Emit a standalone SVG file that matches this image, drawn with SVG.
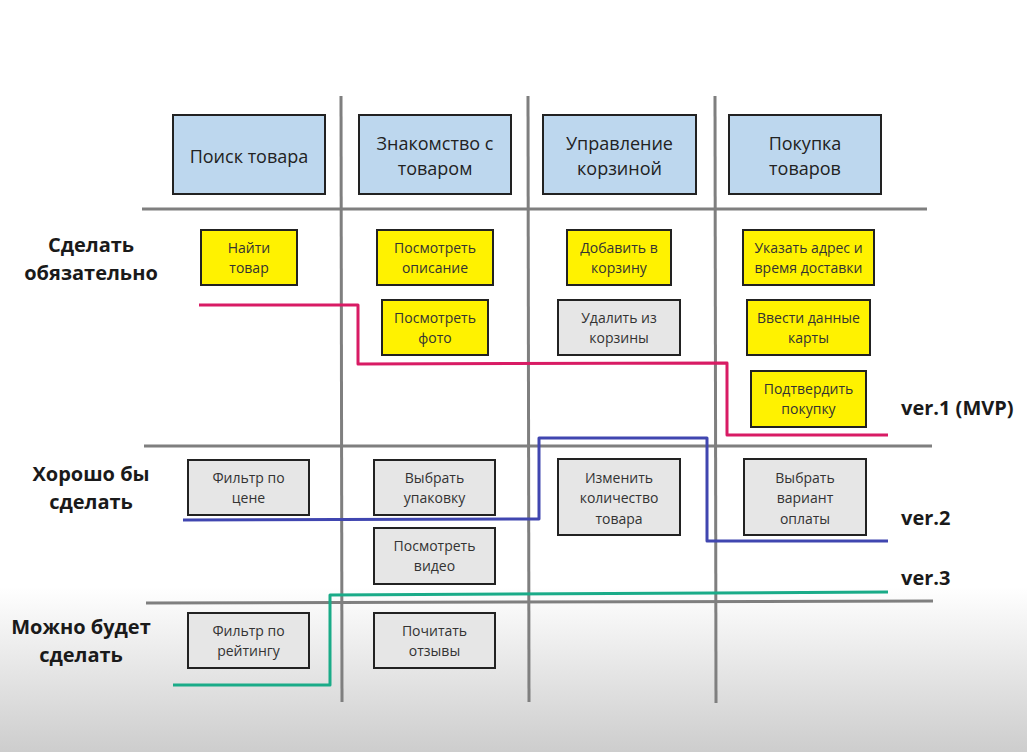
<svg xmlns="http://www.w3.org/2000/svg" width="1027" height="752" viewBox="0 0 1027 752">
  <defs>
    <linearGradient id="bg" x1="0" y1="0" x2="0" y2="1">
      <stop offset="0" stop-color="#ffffff"/>
      <stop offset="0.78" stop-color="#ffffff"/>
      <stop offset="1" stop-color="#cdcdcd"/>
    </linearGradient>
  </defs>
  <style>
    .grid { stroke: #7f7f7f; stroke-width: 3; fill: none; }
    .head rect { fill: #bdd7ee; stroke: #222; stroke-width: 2; }
    .yel rect { fill: #fff200; stroke: #222; stroke-width: 2; }
    .gry rect { fill: #e6e6e6; stroke: #222; stroke-width: 2; }
    text { font-family: "Open Sans", "Noto Sans", "DejaVu Sans", sans-serif; text-anchor: middle; }
    .head text { font-size: 18px; fill: #222; }
    .yel text, .gry text { font-size: 14px; fill: #333; }
    .lbl { font-size: 20px; font-weight: bold; fill: #1a1a1a; }
    .ver { font-size: 20px; font-weight: bold; fill: #1a1a1a; text-anchor: start; }
    .ln { fill: none; stroke-width: 3; stroke-linejoin: round; }
  </style>
  <rect x="0" y="0" width="1027" height="752" fill="url(#bg)"/>

  <g id="grid">
    <line class="grid" x1="341" y1="96" x2="342" y2="702"/>
    <line class="grid" x1="528" y1="96" x2="529" y2="702"/>
    <line class="grid" x1="715" y1="96" x2="716" y2="703"/>
    <line class="grid" x1="142" y1="209" x2="927" y2="209"/>
    <line class="grid" x1="144" y1="446" x2="932" y2="446"/>
    <line class="grid" x1="146" y1="603" x2="933" y2="601"/>
  </g>

  <g id="labels">
    <text class="lbl" x="91" y="252">Сделать</text>
    <text class="lbl" x="91" y="280">обязательно</text>
    <text class="lbl" x="91" y="481">Хорошо бы</text>
    <text class="lbl" x="91" y="509">сделать</text>
    <text class="lbl" x="81" y="634">Можно будет</text>
    <text class="lbl" x="81" y="662">сделать</text>
    <text class="ver" x="901" y="415">ver.1 (MVP)</text>
    <text class="ver" x="901" y="525">ver.2</text>
    <text class="ver" x="901" y="585">ver.3</text>
  </g>

  <g id="h1" class="head"><rect x="173" y="115" width="152" height="79"/><text x="249" y="163">Поиск товара</text></g>
  <g id="h2" class="head"><rect x="359" y="115" width="152" height="79"/><text x="435" y="150">Знакомство с</text><text x="435" y="175">товаром</text></g>
  <g id="h3" class="head"><rect x="543" y="115" width="153" height="79"/><text x="619.5" y="150">Управление</text><text x="619.5" y="175">корзиной</text></g>
  <g id="h4" class="head"><rect x="729" y="115" width="152" height="79"/><text x="805" y="150">Покупка</text><text x="805" y="175">товаров</text></g>

  <g id="n1" class="yel"><rect x="201" y="230" width="96" height="55"/><text x="249" y="253">Найти</text><text x="249" y="273">товар</text></g>
  <g id="n2" class="yel"><rect x="377" y="230" width="116" height="55"/><text x="435" y="253">Посмотреть</text><text x="435" y="273">описание</text></g>
  <g id="n3" class="yel"><rect x="567" y="230" width="104" height="55"/><text x="619" y="253">Добавить в</text><text x="619" y="273">корзину</text></g>
  <g id="n4" class="yel"><rect x="743" y="230" width="131" height="55"/><text x="808.5" y="253">Указать адрес и</text><text x="808.5" y="273">время доставки</text></g>
  <g id="n5" class="yel"><rect x="382" y="300" width="106" height="55"/><text x="435" y="323">Посмотреть</text><text x="435" y="343">фото</text></g>
  <g id="n6" class="gry"><rect x="558" y="300" width="122" height="55"/><text x="619" y="323">Удалить из</text><text x="619" y="343">корзины</text></g>
  <g id="n7" class="yel"><rect x="747" y="300" width="123" height="55"/><text x="808.5" y="323">Ввести данные</text><text x="808.5" y="343">карты</text></g>
  <g id="n8" class="yel"><rect x="751" y="371" width="115" height="56"/><text x="808.5" y="394">Подтвердить</text><text x="808.5" y="414">покупку</text></g>

  <g id="n9" class="gry"><rect x="188" y="460" width="121" height="55"/><text x="248.5" y="483">Фильтр по</text><text x="248.5" y="503">цене</text></g>
  <g id="n10" class="gry"><rect x="374" y="460" width="121" height="55"/><text x="434.5" y="483">Выбрать</text><text x="434.5" y="503">упаковку</text></g>
  <g id="n11" class="gry"><rect x="558" y="459" width="122" height="76"/><text x="619" y="483">Изменить</text><text x="619" y="503">количество</text><text x="619" y="524">товара</text></g>
  <g id="n12" class="gry"><rect x="744" y="459" width="122" height="76"/><text x="805" y="483">Выбрать</text><text x="805" y="503">вариант</text><text x="805" y="524">оплаты</text></g>
  <g id="n13" class="gry"><rect x="374" y="528" width="121" height="56"/><text x="434.5" y="551">Посмотреть</text><text x="434.5" y="571">видео</text></g>
  <g id="n14" class="gry"><rect x="188" y="613" width="121" height="55"/><text x="248.5" y="636">Фильтр по</text><text x="248.5" y="656">рейтингу</text></g>
  <g id="n15" class="gry"><rect x="374" y="613" width="121" height="55"/><text x="434.5" y="636">Почитать</text><text x="434.5" y="656">отзывы</text></g>

  <g id="connectors">
    <polyline class="ln" stroke="#d81b64" points="199,305 358,305 358,364 727,363 727,435 888,435"/>
    <polyline class="ln" stroke="#4046b0" points="183,520 539,519 539,438 707,438 707,541 888,541"/>
    <polyline class="ln" stroke="#1aab88" points="173,685 330,685 330,595 888,592"/>
  </g>
</svg>
